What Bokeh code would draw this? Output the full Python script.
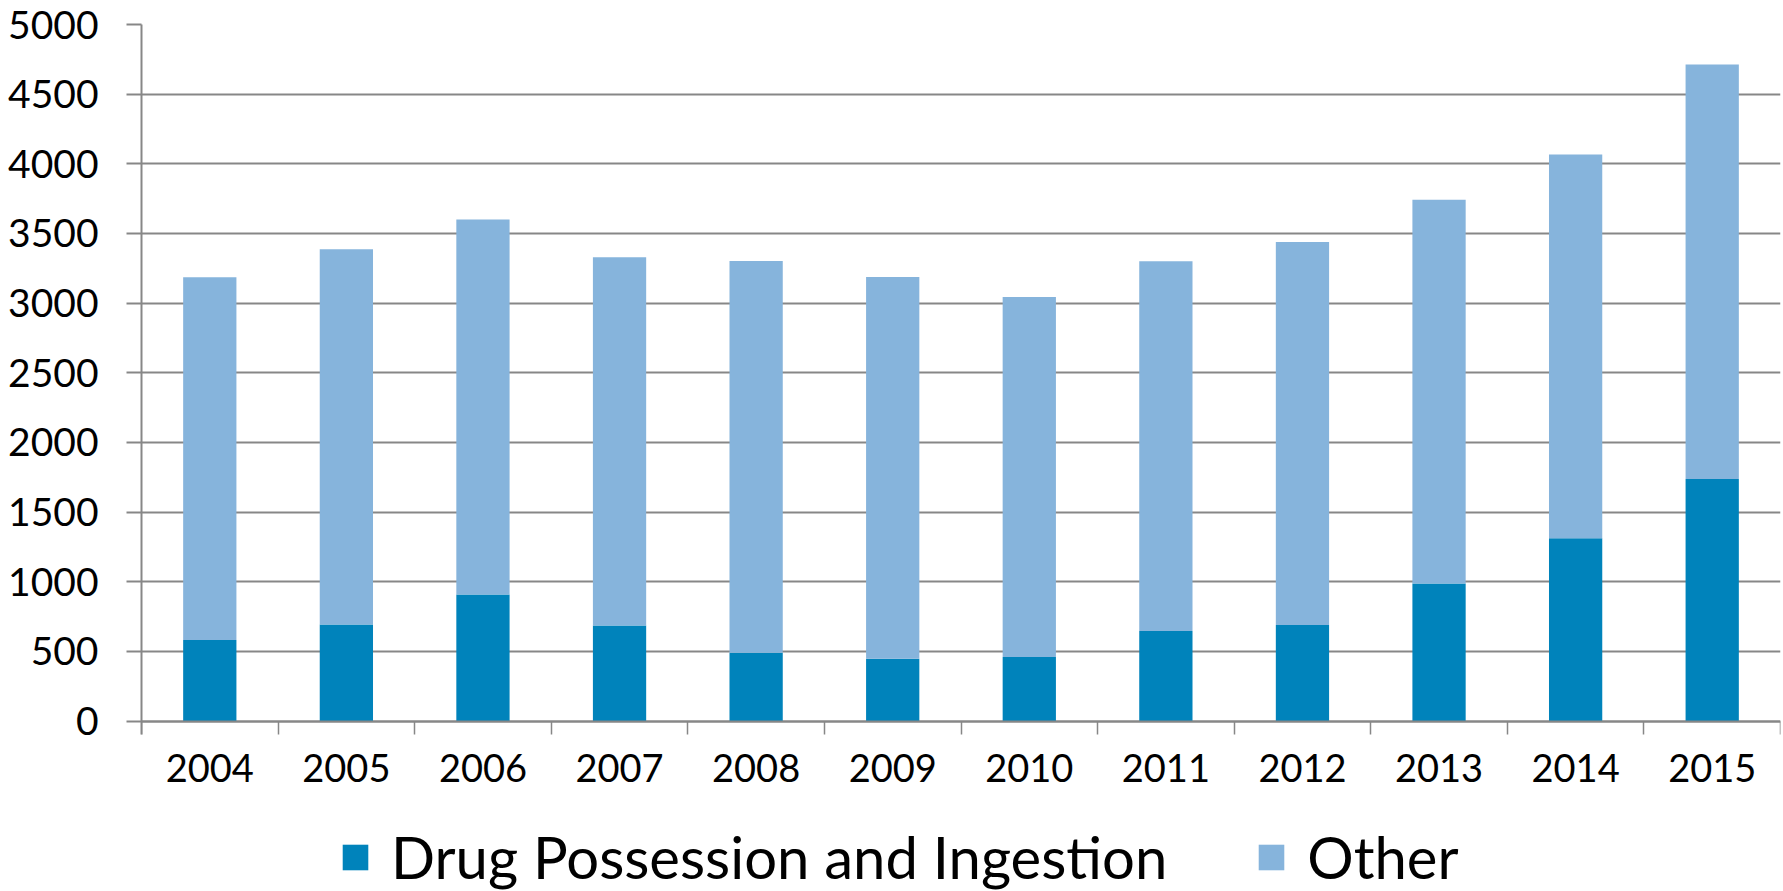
from bokeh.plotting import figure
from bokeh.models import FixedTicker, Legend, ColumnDataSource
from bokeh.embed import file_html
from bokeh.resources import INLINE

years = [2004, 2005, 2006, 2007, 2008, 2009, 2010, 2011, 2012, 2013, 2014, 2015]
drug = [581, 693, 909, 686, 490, 446, 460, 646, 690, 987, 1312, 1738]
total = [3185, 3387, 3600, 3330, 3303, 3188, 3043, 3300, 3438, 3742, 4067, 4713]
other = [t - d for t, d in zip(total, drug)]
y_ticks = [0, 500, 1000, 1500, 2000, 2500, 3000, 3500, 4000, 4500, 5000]
series = ["Drug Possession and Ingestion", "Other"]
colors = ["#0083BB", "#86B4DC"]

src = ColumnDataSource(dict(year=years, drug=drug, other=other))

# frame spans to the page bottom so the legend can sit under the axis
top_border = 24
zero_px = 720.5
y_top = 5000
px_per_unit = (zero_px - top_border) / y_top
y_bottom = -(891 - zero_px) / px_per_unit

p = figure(width=1783, height=891,
           output_backend="svg", toolbar_location=None,
           x_range=(years[0] - 0.5, years[-1] + 0.5), y_range=(y_bottom, y_top),
           min_border_left=141, min_border_right=3, min_border_top=top_border, min_border_bottom=0)
p.outline_line_color = None
p.background_fill_color = "white"
p.border_fill_color = "white"

r = p.vbar_stack(["drug", "other"], x="year", width=0.39, source=src,
                 color=colors, line_color=None)

grey = "#878787"
font = "Lato"

xa = p.xaxis[0]
xa.fixed_location = 0
xa.ticker = FixedTicker(ticks=years, minor_ticks=[y - 0.5 for y in years] + [years[-1] + 0.5])
xa.major_tick_out = 0
xa.major_tick_in = 0
xa.minor_tick_out = 13
xa.minor_tick_in = 0
xa.minor_tick_line_color = grey
xa.minor_tick_line_width = 1.5
xa.axis_line_color = grey
xa.axis_line_width = 2
xa.major_label_text_font = font
xa.major_label_text_font_size = "38px"
xa.major_label_text_color = "black"
xa.major_label_standoff = 20

ya = p.yaxis[0]
ya.ticker = FixedTicker(ticks=y_ticks)
ya.bounds = (-13 / px_per_unit, y_top)
ya.minor_tick_line_color = None
ya.major_tick_out = 15
ya.major_tick_in = 0
ya.major_tick_line_color = grey
ya.major_tick_line_width = 2
ya.axis_line_color = grey
ya.axis_line_width = 2
ya.major_label_text_font = font
ya.major_label_text_font_size = "39px"
ya.major_label_text_color = "black"
ya.major_label_standoff = 28

p.xgrid.grid_line_color = None
p.ygrid.ticker = FixedTicker(ticks=y_ticks)
p.ygrid.grid_line_color = grey
p.ygrid.grid_line_width = 2

legend = Legend(items=[(series[0], [r[0]]), (series[1], [r[1]])],
                orientation="horizontal", location=(198, 0),
                glyph_width=32, glyph_height=32, label_standoff=20, spacing=88,
                padding=0, margin=0, border_line_color=None, background_fill_alpha=0,
                label_text_font=font, label_text_font_size="58px",
                label_text_color="black", label_height=40)
p.add_layout(legend, "center")

open("out.html", "w").write(file_html(p, INLINE))
